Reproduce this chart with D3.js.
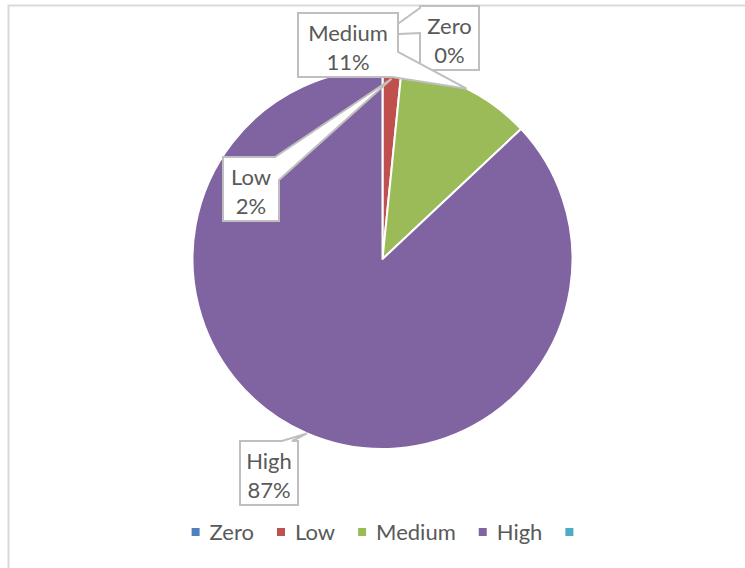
<!DOCTYPE html>
<html>
<head>
<meta charset="utf-8">
<script src="https://cdn.jsdelivr.net/npm/d3@7"></script>
<style>
  body { margin: 0; background: #fff; }
  text { font-family: Lato, "Open Sans", sans-serif; fill: #595959; }
</style>
</head>
<body>
<div id="chart"></div>
<script>
// data
var categories = ["Zero", "Low", "Medium", "High"];
var values = [0, 1.6, 11.4, 87];
var colors = ["#4F81BD", "#C0504D", "#9BBB59", "#8064A2"];
var legendLabels = ["Zero", "Low", "Medium", "High", ""];
var legendColors = ["#4F81BD", "#C0504D", "#9BBB59", "#8064A2", "#4BACC6"];

// callout layout (box + where the wedge leaves the box)
var callouts = [
  { x: 420, y: 6,   w: 59,  h: 64, tipR: 1.18, a: ["left", 27],  b: ["left", 2] },
  { x: 223, y: 157, w: 56,  h: 64, tipR: 0.95, a: ["top", 52],   b: ["right", 23] },
  { x: 298, y: 13,  w: 100, h: 64, tipR: 1.0,  a: ["right", 39], b: ["bottom", 94] },
  { x: 240, y: 441, w: 58,  h: 64, tipR: 1.0,  a: ["top", 42],   b: ["top", 52] }
];
var drawOrder = [0, 1, 2, 3];

var width = 745;
var height = 568;
var cx = 382.5, cy = 259, radius = 190;

var svg = d3.select("#chart").append("svg")
  .attr("width", width)
  .attr("height", height);

// chart frame
svg.append("rect")
  .attr("x", 8.5).attr("y", 5.5)
  .attr("width", 800).attr("height", 600)
  .attr("fill", "none")
  .attr("stroke", "#d9d9d9")
  .attr("stroke-width", 2);

var total = d3.sum(values);
var pie = d3.pie().sort(null).value(function(d) { return d; });
var arcs = pie(values);
var arc = d3.arc().innerRadius(0).outerRadius(radius);

var g = svg.append("g")
  .attr("transform", "translate(" + cx + "," + cy + ")");

g.selectAll("path.slice")
  .data(arcs)
  .enter().append("path")
  .attr("class", "slice")
  .attr("d", arc)
  .attr("fill", function(d, i) { return colors[i]; })
  .attr("stroke", "#fff")
  .attr("stroke-width", 2)
  .attr("stroke-linejoin", "round");

// perimeter position of a point on the box, clockwise from top-left
function perim(c, p) {
  var side = p[0], o = p[1];
  if (side === "top") return o;
  if (side === "right") return c.w + o;
  if (side === "bottom") return c.w + c.h + (c.w - o);
  return 2 * c.w + c.h + (c.h - o);
}
function edgePoint(c, p) {
  var side = p[0], o = p[1];
  if (side === "top") return [c.x + o, c.y];
  if (side === "right") return [c.x + c.w, c.y + o];
  if (side === "bottom") return [c.x + o, c.y + c.h];
  return [c.x, c.y + o];
}

function calloutPath(c, tip) {
  var corners = [
    { s: 0, p: [c.x, c.y] },
    { s: c.w, p: [c.x + c.w, c.y] },
    { s: c.w + c.h, p: [c.x + c.w, c.y + c.h] },
    { s: 2 * c.w + c.h, p: [c.x, c.y + c.h] }
  ];
  var sa = perim(c, c.a), sb = perim(c, c.b);
  var pts = [];
  var added = false;
  corners.forEach(function(k) {
    if (!added && k.s > sa) {
      pts.push(edgePoint(c, c.a), tip, edgePoint(c, c.b));
      added = true;
    }
    if (k.s <= sa || k.s >= sb) pts.push(k.p);
  });
  if (!added) pts.push(edgePoint(c, c.a), tip, edgePoint(c, c.b));
  return "M" + pts.map(function(p) { return p[0] + "," + p[1]; }).join("L") + "Z";
}

var labels = svg.append("g").attr("class", "labels");

drawOrder.forEach(function(i) {
  var c = callouts[i];
  var d = arcs[i];
  var mid = (d.startAngle + d.endAngle) / 2;
  var r = radius * c.tipR;
  var tip = [cx + r * Math.sin(mid), cy - r * Math.cos(mid)];

  var lg = labels.append("g");
  lg.append("path")
    .attr("d", calloutPath(c, tip))
    .attr("fill", "#fff")
    .attr("stroke", "#bfbfbf")
    .attr("stroke-width", 2)
    .attr("stroke-linejoin", "miter");

  var pct = Math.round(values[i] / total * 100) + "%";
  lg.append("text")
    .attr("x", c.x + c.w / 2)
    .attr("y", c.y + 28)
    .attr("text-anchor", "middle")
    .style("font-size", "22px")
    .text(categories[i]);
  lg.append("text")
    .attr("x", c.x + c.w / 2)
    .attr("y", c.y + 57)
    .attr("text-anchor", "middle")
    .style("font-size", "22px")
    .text(pct);
});

// legend
var legend = svg.append("g").attr("class", "legend");
var sq = 8, gapText = 10, gapItem = 23;
var items = legend.selectAll("g.item")
  .data(legendLabels)
  .enter().append("g")
  .attr("class", "item");

items.append("rect")
  .attr("width", sq).attr("height", sq)
  .attr("y", 528)
  .attr("fill", function(d, i) { return legendColors[i]; });

items.append("text")
  .attr("y", 540)
  .style("font-size", "22px")
  .text(function(d) { return d; });

var widths = [];
items.select("text").each(function() { widths.push(this.getComputedTextLength()); });
var totalW = 0;
widths.forEach(function(w, i) {
  totalW += sq + (w > 0 ? gapText + w : 0) + (i < widths.length - 1 ? gapItem : 0);
});
var xPos = cx - totalW / 2;
items.each(function(d, i) {
  var it = d3.select(this);
  it.select("rect").attr("x", xPos);
  it.select("text").attr("x", xPos + sq + gapText);
  xPos += sq + (widths[i] > 0 ? gapText + widths[i] : 0) + gapItem;
});
</script>
</body>
</html>
